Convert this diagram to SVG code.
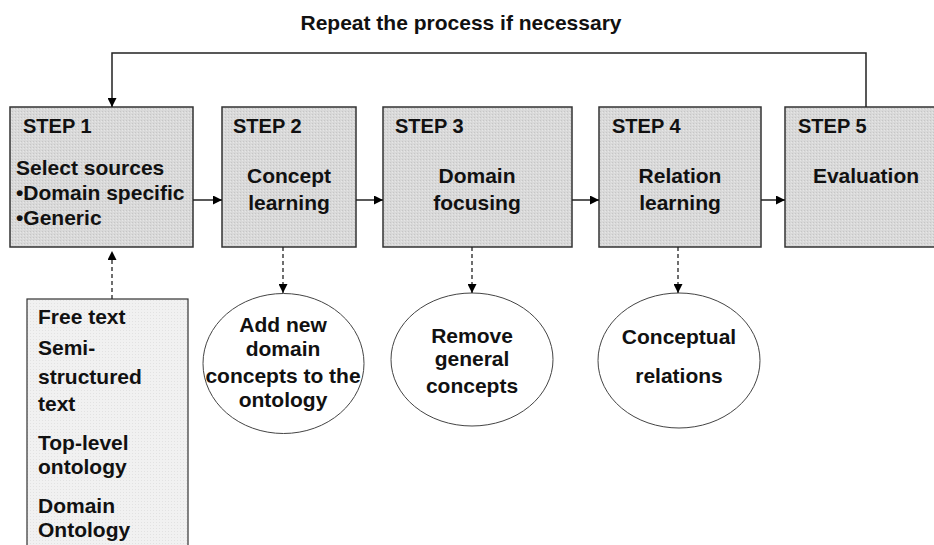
<svg xmlns="http://www.w3.org/2000/svg" width="934" height="545" viewBox="0 0 934 545">
<defs>
<pattern id="dots" width="3" height="3" patternUnits="userSpaceOnUse">
<rect width="3" height="3" fill="#d9d9d9"/>
<rect x="0" y="0" width="1" height="1" fill="#c6c6c6"/>
<rect x="2" y="1" width="1" height="1" fill="#e6e6e6"/>
</pattern>
<pattern id="dotsl" width="3" height="3" patternUnits="userSpaceOnUse">
<rect width="3" height="3" fill="#f1f1f1"/>
<rect x="0" y="0" width="1" height="1" fill="#e2e2e2"/>
</pattern>
<marker id="ah" viewBox="0 0 10 10" refX="10" refY="5" markerWidth="10" markerHeight="9" markerUnits="userSpaceOnUse" orient="auto">
<path d="M0,0 L10,5 L0,10 Z" fill="#000"/>
</marker>
</defs>
<style>
text{font-family:"Liberation Sans",Arial,sans-serif;font-weight:bold;fill:#111;font-size:21px}
.step{font-size:20px}
.c{text-anchor:middle}
.box{fill:url(#dots);stroke:#333;stroke-width:1.5}
.src{fill:url(#dotsl);stroke:#333;stroke-width:1.2}
.ell{fill:#fff;stroke:#444;stroke-width:1}
.ln{fill:none;stroke:#222;stroke-width:1.5}
.dash{fill:none;stroke:#222;stroke-width:1.3;stroke-dasharray:4,3}
</style>
<text x="461" y="30" class="c">Repeat the process if necessary</text>
<g id="step1">
<rect class="box" x="10" y="107" width="183" height="140"/>
<text class="step" x="23" y="133">STEP 1</text>
<text x="16" y="175">Select sources</text>
<text x="16" y="200">•Domain specific</text>
<text x="16" y="225">•Generic</text>
</g>
<g id="step2">
<rect class="box" x="222" y="107" width="134" height="140"/>
<text class="step" x="233" y="133">STEP 2</text>
<text class="c" x="289" y="183">Concept</text>
<text class="c" x="289" y="210">learning</text>
</g>
<g id="step3">
<rect class="box" x="383" y="107" width="189" height="140"/>
<text class="step" x="395" y="133">STEP 3</text>
<text class="c" x="477" y="183">Domain</text>
<text class="c" x="477" y="210">focusing</text>
</g>
<g id="step4">
<rect class="box" x="599" y="107" width="162" height="140"/>
<text class="step" x="612" y="133">STEP 4</text>
<text class="c" x="680" y="183">Relation</text>
<text class="c" x="680" y="210">learning</text>
</g>
<g id="step5">
<rect class="box" x="785" y="107" width="165" height="140"/>
<text class="step" x="798" y="133">STEP 5</text>
<text class="c" x="866" y="183">Evaluation</text>
</g>
<g id="sources">
<rect class="src" x="27" y="299" width="161" height="260"/>
<text x="38" y="324">Free text</text>
<text x="38" y="355">Semi-</text>
<text x="38" y="384">structured</text>
<text x="38" y="411">text</text>
<text x="38" y="450">Top-level</text>
<text x="38" y="474">ontology</text>
<text x="38" y="513">Domain</text>
<text x="38" y="537">Ontology</text>
</g>
<g id="result2">
<ellipse class="ell" cx="283.5" cy="363.5" rx="80.5" ry="70"/>
<text class="c" x="283" y="332">Add new</text>
<text class="c" x="283" y="356">domain</text>
<text class="c" x="283" y="383">concepts to the</text>
<text class="c" x="283" y="407">ontology</text>
</g>
<g id="result3">
<ellipse class="ell" cx="472" cy="359.5" rx="81" ry="66.5"/>
<text class="c" x="472" y="343">Remove</text>
<text class="c" x="472" y="366">general</text>
<text class="c" x="472" y="393">concepts</text>
</g>
<g id="result4">
<ellipse class="ell" cx="679" cy="360.5" rx="81" ry="67.5"/>
<text class="c" x="679" y="344">Conceptual</text>
<text class="c" x="679" y="383">relations</text>
</g>
<g id="connectors">
<path class="ln" d="M193,200 H222" marker-end="url(#ah)"/>
<path class="ln" d="M356,200 H383" marker-end="url(#ah)"/>
<path class="ln" d="M572,200 H599" marker-end="url(#ah)"/>
<path class="ln" d="M761,200 H785" marker-end="url(#ah)"/>
<path class="ln" d="M866,107 V53 H112 V107" marker-end="url(#ah)"/>
<path class="dash" d="M112,299 V251" marker-end="url(#ah)"/>
<path class="dash" d="M283,247 V293" marker-end="url(#ah)"/>
<path class="dash" d="M472,247 V293" marker-end="url(#ah)"/>
<path class="dash" d="M678,247 V293" marker-end="url(#ah)"/>
</g>
</svg>
